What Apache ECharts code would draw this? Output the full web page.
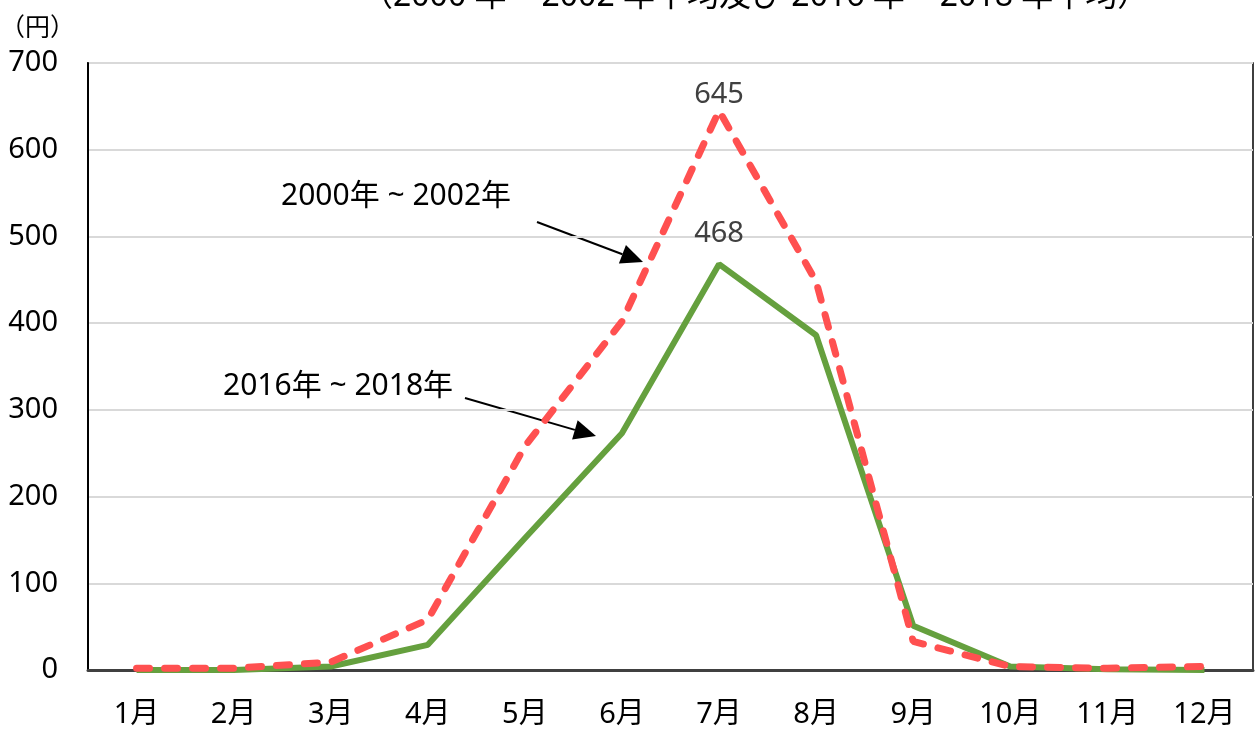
<!DOCTYPE html>
<html>
<head>
<meta charset="utf-8">
<script src="https://cdn.jsdelivr.net/npm/echarts@6/dist/echarts.min.js"></script>
<style>
  html, body { margin: 0; padding: 0; background: #fff; }
  #chart { width: 1255px; height: 729px; }
</style>
</head>
<body>
<div id="chart"></div>
<script>
  // 月別データ（円）
  var months = ['1月', '2月', '3月', '4月', '5月', '6月', '7月', '8月', '9月', '10月', '11月', '12月'];
  var avg2000 = [2, 2, 9, 58, 258, 402, 645, 448, 33, 4, 2, 4];
  var avg2016 = [0, 0, 4, 29, 152, 273, 468, 386, 51, 4, 1, 0];
  var yTicks = [0, 100, 200, 300, 400, 500, 600, 700];
  var peakIdx = 6;

  var FONT = "'Noto Sans', 'Noto Sans CJK JP', sans-serif";

  var chart = echarts.init(document.getElementById('chart'));

  // 矢印（注記用）
  function arrow(x1, y1, x2, y2) {
    var ang = Math.atan2(y2 - y1, x2 - x1);
    var len = 22, half = 10;
    var bx = x2 - len * Math.cos(ang), by = y2 - len * Math.sin(ang);
    var px = -Math.sin(ang) * half, py = Math.cos(ang) * half;
    return [{
      type: 'line',
      shape: { x1: x1, y1: y1, x2: bx, y2: by },
      style: { stroke: '#000', lineWidth: 2 }
    }, {
      type: 'polygon',
      shape: { points: [[x2, y2], [bx + px, by + py], [bx - px, by - py]] },
      style: { fill: '#000' }
    }];
  }

  function withPeakLabel(values, dist) {
    return values.map(function (v, i) {
      if (i !== peakIdx) return v;
      return {
        value: v,
        label: {
          show: true, position: 'top', distance: dist,
          color: '#404040', fontSize: 29, fontFamily: FONT
        }
      };
    });
  }

  var graphics = [
    { type: 'text', left: 281, top: 181, style: { text: '2000年 ~ 2002年', fontSize: 30, fontFamily: FONT, fill: '#000' } },
    { type: 'text', left: 223, top: 371, style: { text: '2016年 ~ 2018年', fontSize: 30, fontFamily: FONT, fill: '#000' } },
    { type: 'text', left: 0, top: 16, style: { text: '（円）', fontSize: 25, fontFamily: FONT, fill: '#000' } }
  ].concat(arrow(537, 222, 643, 262), arrow(465, 398, 596, 436));

  var option = {
    backgroundColor: '#fff',
    animation: false,
    title: {
      text: '（2000 年 ~ 2002 年平均及び 2016 年 ~ 2018 年平均）',
      left: 356,
      top: -24,
      textStyle: { fontSize: 32, fontWeight: 'normal', color: '#000', fontFamily: FONT }
    },
    grid: {
      left: 88, right: 2, top: 63, bottom: 59,
      show: true, borderColor: '#000', borderWidth: 1.5
    },
    xAxis: {
      type: 'category',
      data: months,
      boundaryGap: true,
      axisLine: { lineStyle: { color: '#404040', width: 3 } },
      axisTick: { show: false },
      axisLabel: { color: '#000', fontSize: 29, fontFamily: FONT, margin: 30 }
    },
    yAxis: {
      type: 'value',
      min: yTicks[0],
      max: yTicks[yTicks.length - 1],
      interval: 100,
      axisLine: { show: true, lineStyle: { color: '#000', width: 2 } },
      axisTick: { show: false },
      axisLabel: { color: '#000', fontSize: 29, fontFamily: FONT, margin: 30 },
      splitLine: { lineStyle: { color: '#d9d9d9', width: 2 } }
    },
    series: [{
      name: '2016年 ~ 2018年',
      type: 'line',
      data: withPeakLabel(avg2016, 16),
      symbol: 'circle',
      symbolSize: 0,
      showSymbol: true,
      lineStyle: { color: '#65A03E', width: 6 },
      itemStyle: { color: '#65A03E' },
      z: 2
    }, {
      name: '2000年 ~ 2002年',
      type: 'line',
      data: withPeakLabel(avg2000, 1),
      symbol: 'circle',
      symbolSize: 0,
      showSymbol: true,
      lineStyle: { color: '#FF5050', width: 7, type: [13, 15], cap: 'round' },
      itemStyle: { color: '#FF5050' },
      z: 3
    }],
    graphic: graphics
  };

  chart.setOption(option);
</script>
</body>
</html>
